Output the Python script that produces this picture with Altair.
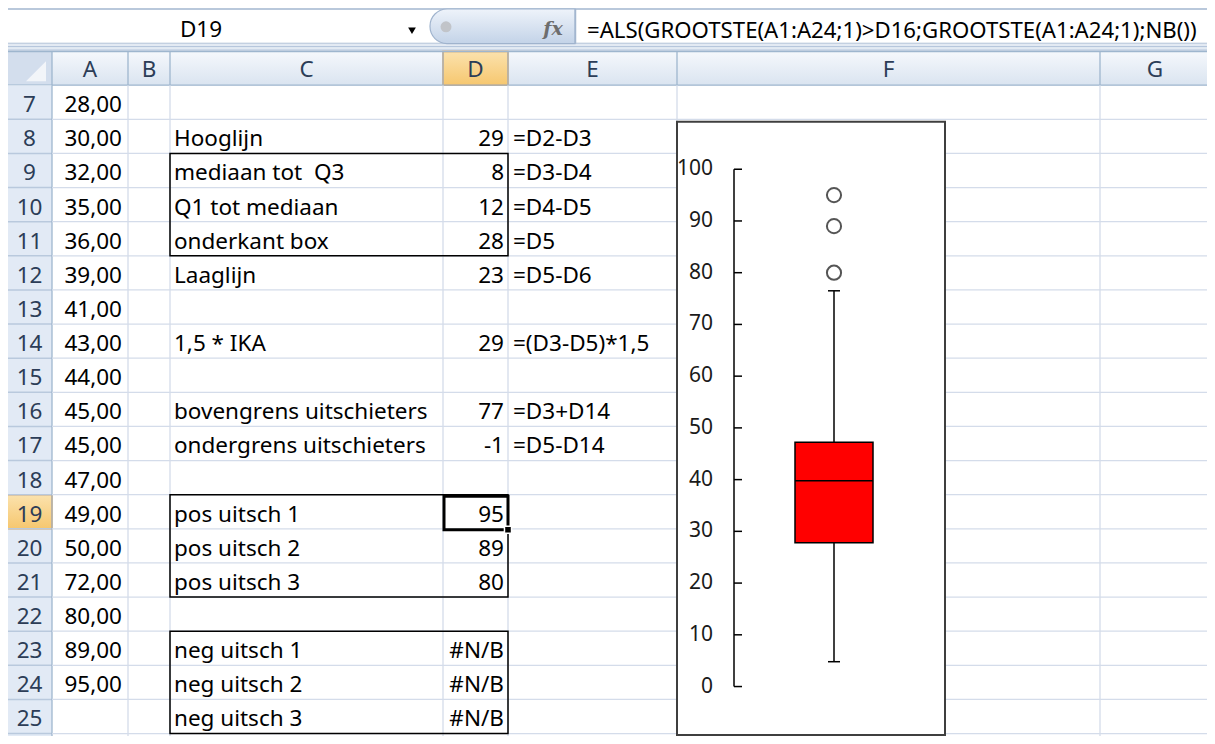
import altair as alt
import pandas as pd

# ---------------- values ----------------
row_numbers = list(range(7, 26))
col_letters = ["A", "B", "C", "D", "E", "F", "G"]
values_a = ["28,00", "30,00", "32,00", "35,00", "36,00", "39,00", "41,00", "43,00",
            "44,00", "45,00", "45,00", "47,00", "49,00", "50,00", "72,00", "80,00",
            "89,00", "95,00", ""]
labels_c = ["", "Hooglijn", "mediaan tot\u00a0 Q3", "Q1 tot mediaan", "onderkant box",
            "Laaglijn", "", "1,5 * IKA", "", "bovengrens uitschieters",
            "ondergrens uitschieters", "", "pos uitsch 1", "pos uitsch 2",
            "pos uitsch 3", "", "neg uitsch 1", "neg uitsch 2", "neg uitsch 3"]
values_d = ["", "29", "8", "12", "28", "23", "", "29", "", "77", "-1", "",
            "95", "89", "80", "", "#N/B", "#N/B", "#N/B"]
formulas_e = ["", "=D2-D3", "=D3-D4", "=D4-D5", "=D5", "=D5-D6", "", "=(D3-D5)*1,5",
              "", "=D3+D14", "=D5-D14", "", "", "", "", "", "", "", ""]
name_box = "D19"
formula_text = "=ALS(GROOTSTE(A1:A24;1)>D16;GROOTSTE(A1:A24;1);NB())"
active_col = "D"
active_row = 19

# box plot
whisker_low = 4.8
q1 = 27.8
median = 39.8
q3 = 47.2
whisker_high = 76.5
outliers = [95, 89, 80]
axis_ticks = [0, 10, 20, 30, 40, 50, 60, 70, 80, 90, 100]

# ---------------- layout (screen geometry of the sheet) ----------------
W, H = 1199, 728
OFF = 8
SRC_W, SRC_H = 1215, 744
KY = H / (SRC_H - OFF)          # slight vertical squeeze so the page does not overflow
col_edges = [7, 52, 128, 170, 443, 508, 677, 1100, 1210]
HEAD_TOP, HEAD_BOT = 52, 86
ROW_H = 34.5
BAR_TOP, BAR_BOT = 9, 44
RIGHT = 1216
BOTTOM = 745
CHART_BOTTOM = 743
FONT = "Noto Sans"
FS = 22.5
HEAD_BORDER = "#9eb6ce"
GRID = "#d4dcea"
HEAD_TXT = "#2c3d57"


def row_top(r):
    return HEAD_BOT + (r - 7) * ROW_H


def row_mid(r):
    return row_top(r) + ROW_H / 2 + 3


def cy(p):
    return (p - OFF) * KY


px_x = alt.Scale(domain=[OFF, OFF + W], range=[0, W], zero=False, nice=False)
px_y = alt.Scale(domain=[OFF, SRC_H], range=[0, H], zero=False, nice=False)


def rect_layer(df, fill_field=True, **mark):
    enc = dict(
        x=alt.X("x1:Q", scale=px_x, axis=None),
        x2="x2:Q",
        y=alt.Y("y1:Q", scale=px_y, axis=None),
        y2="y2:Q",
    )
    if fill_field:
        enc["fill"] = alt.Fill("fill:N", scale=None)
    return alt.Chart(df).mark_rect(**mark).encode(**enc)


def rule_layer(df, color, width=1):
    return alt.Chart(df).mark_rule(color=color, strokeWidth=width).encode(
        x=alt.X("x1:Q", scale=px_x, axis=None),
        x2="x2:Q",
        y=alt.Y("y1:Q", scale=px_y, axis=None),
        y2="y2:Q",
    )


def text_layer(df, align, **mark):
    props = dict(font=FONT, fontSize=FS, color="black", baseline="middle")
    props.update(mark)
    return alt.Chart(df).mark_text(align=align, **props).encode(
        x=alt.X("x:Q", scale=px_x, axis=None),
        y=alt.Y("y:Q", scale=px_y, axis=None),
        text="t:N",
    )


def grad(c1, c2):
    return alt.Gradient(gradient="linear",
                        stops=[alt.GradientStop(color=c1, offset=0),
                               alt.GradientStop(color=c2, offset=1)],
                        x1=0, x2=0, y1=0, y2=1)


def point_layer(x, y, **mark):
    return alt.Chart(pd.DataFrame([dict(x=x, y=y)])).mark_point(opacity=1, **mark).encode(
        x=alt.X("x:Q", scale=px_x, axis=None), y=alt.Y("y:Q", scale=px_y, axis=None))


layers = []

# ---- formula bar ----
layers.append(rect_layer(pd.DataFrame([dict(x1=7, x2=RIGHT + 2, y1=BAR_TOP, y2=BAR_BOT, fill="white")]),
                         stroke="#a3b6cf", strokeWidth=1.5))
layers.append(rect_layer(pd.DataFrame([dict(x1=7, x2=RIGHT + 2, y1=BAR_BOT, y2=HEAD_TOP, fill="#e3eaf3")])))
layers.append(rule_layer(pd.DataFrame([dict(x1=7, x2=RIGHT, y1=47, y2=47),
                                       dict(x1=7, x2=RIGHT, y1=50.5, y2=50.5)]), "#b3c4da", 1))
layers.append(rect_layer(pd.DataFrame([dict(x1=430, x2=575, y1=BAR_TOP, y2=BAR_BOT)]), fill_field=False,
                         fill=grad("#eef3fa", "#c3d3e8"), stroke="#9fb3cd", strokeWidth=1.2,
                         cornerRadiusTopLeft=17, cornerRadiusBottomLeft=17))
layers.append(rule_layer(pd.DataFrame([dict(x1=575.5, x2=575.5, y1=BAR_TOP, y2=BAR_BOT)]), "#a3b6cf", 1.5))
layers.append(point_layer(446, 27, filled=True, shape="circle", size=120, color="#c1c4c9"))
layers.append(point_layer(412, 31, filled=True, shape="triangle-down", size=60, color="black"))
layers.append(text_layer(pd.DataFrame([dict(x=201, y=30, t=name_box)]), "center"))
layers.append(text_layer(pd.DataFrame([dict(x=553, y=29, t="fx")]), "center",
                         font="DejaVu Serif", fontStyle="italic", fontWeight="bold",
                         fontSize=19, color="#6d6d6d"))
layers.append(text_layer(pd.DataFrame([dict(x=587, y=31, t=formula_text)]), "left", fontSize=22.2))

# ---- column header row ----
layers.append(rect_layer(pd.DataFrame([dict(x1=7, x2=RIGHT + 2, y1=HEAD_TOP, y2=HEAD_BOT)]), fill_field=False,
                         fill=grad("#f5f8fc", "#dae4f0")))
ai = col_letters.index(active_col)
layers.append(rect_layer(pd.DataFrame([dict(x1=col_edges[ai + 1], x2=col_edges[ai + 2],
                                            y1=HEAD_TOP, y2=HEAD_BOT)]), fill_field=False,
                         fill=grad("#fbe2ad", "#f6c76f"), stroke="#f2a03c", strokeWidth=1.5))
# corner cell
layers.append(rect_layer(pd.DataFrame([dict(x1=7, x2=col_edges[1], y1=HEAD_TOP, y2=HEAD_BOT, fill="#d3deed")])))
layers.append(point_layer(36, 72, filled=True, shape="M -1 1 L 1 1 L 1 -1 Z", size=400, color="#f2f5f9"))
head_v = pd.DataFrame([dict(x1=e, x2=e, y1=HEAD_TOP, y2=HEAD_BOT) for e in col_edges[1:]])
layers.append(rule_layer(head_v, HEAD_BORDER, 1.3))
layers.append(rule_layer(pd.DataFrame([dict(x1=7, x2=RIGHT, y1=HEAD_BOT, y2=HEAD_BOT),
                                       dict(x1=7, x2=RIGHT, y1=HEAD_TOP, y2=HEAD_TOP)]), HEAD_BORDER, 1.3))
col_lbl = pd.DataFrame([dict(x=(col_edges[i + 1] + col_edges[i + 2]) / 2, y=71, t=c)
                        for i, c in enumerate(col_letters)])
layers.append(text_layer(col_lbl, "center", color=HEAD_TXT))

# ---- row header column ----
layers.append(rect_layer(pd.DataFrame([dict(x1=7, x2=col_edges[1], y1=HEAD_BOT, y2=BOTTOM,
                                            fill="#e2eaf5")])))
layers.append(rect_layer(pd.DataFrame([dict(x1=7, x2=col_edges[1], y1=row_top(active_row),
                                            y2=row_top(active_row + 1))]), fill_field=False,
                         fill=grad("#fbe2ad", "#f6c76f"), stroke="#f2a03c", strokeWidth=1.5))
row_h = pd.DataFrame([dict(x1=7, x2=col_edges[1], y1=row_top(r + 1), y2=row_top(r + 1)) for r in row_numbers])
layers.append(rule_layer(row_h, "#b9c9dd", 1.5))
layers.append(rule_layer(pd.DataFrame([dict(x1=col_edges[1], x2=col_edges[1], y1=HEAD_BOT, y2=BOTTOM),
                                       dict(x1=7, x2=7, y1=HEAD_TOP, y2=BOTTOM)]), HEAD_BORDER, 1.3))
row_lbl = pd.DataFrame([dict(x=29.5, y=row_mid(r), t=str(r)) for r in row_numbers])
layers.append(text_layer(row_lbl, "center", color=HEAD_TXT))

# ---- cell grid ----
grid_h = pd.DataFrame([dict(x1=col_edges[1], x2=RIGHT, y1=row_top(r + 1), y2=row_top(r + 1)) for r in row_numbers])
grid_v = pd.DataFrame([dict(x1=e, x2=e, y1=HEAD_BOT, y2=BOTTOM) for e in col_edges[2:]])
layers.append(rule_layer(grid_h, GRID, 1.3))
layers.append(rule_layer(grid_v, GRID, 1.3))

# ---- cell contents ----
a_df = pd.DataFrame([dict(x=col_edges[2] - 6, y=row_mid(r), t=v) for r, v in zip(row_numbers, values_a) if v])
c_df = pd.DataFrame([dict(x=col_edges[3] + 4, y=row_mid(r), t=v) for r, v in zip(row_numbers, labels_c) if v])
d_df = pd.DataFrame([dict(x=col_edges[5] - 4, y=row_mid(r), t=v) for r, v in zip(row_numbers, values_d) if v])
e_df = pd.DataFrame([dict(x=col_edges[5] + 5, y=row_mid(r), t=v) for r, v in zip(row_numbers, formulas_e) if v])
layers.append(text_layer(a_df, "right"))
layers.append(text_layer(c_df, "left"))
layers.append(text_layer(d_df, "right"))
layers.append(text_layer(e_df, "left"))

# cell borders (outlined ranges)
ranges = pd.DataFrame([
    dict(x1=col_edges[3], x2=col_edges[5], y1=row_top(9), y2=row_top(12)),
    dict(x1=col_edges[3], x2=col_edges[5], y1=row_top(19), y2=row_top(22)),
    dict(x1=col_edges[3], x2=col_edges[5], y1=row_top(23), y2=row_top(26)),
])
layers.append(rect_layer(ranges, fill_field=False, fill=None, stroke="black", strokeWidth=1.5))

# active cell selection + fill handle
layers.append(rect_layer(pd.DataFrame([dict(x1=col_edges[4] + 1, x2=col_edges[5],
                                            y1=row_top(active_row) + 1.5, y2=row_top(active_row + 1) + 1)]),
                         fill_field=False, fill=None, stroke="black", strokeWidth=3))
layers.append(point_layer(col_edges[5], row_top(active_row + 1) + 1, filled=True, shape="square",
                          size=50, color="black", stroke="white", strokeWidth=1.5))

# ---- chart object in column F ----
layers.append(rect_layer(pd.DataFrame([dict(x1=677, x2=945, y1=123, y2=CHART_BOTTOM, fill="white")]),
                         stroke="#3f3f3f", strokeWidth=2))

# box plot, drawn through its own value scale
val_y = alt.Scale(domain=[0, 100], range=[cy(694), cy(171)], zero=False, nice=False)
AX_X = 734 - OFF
CX = 834 - OFF
BOX_L, BOX_R = 795 - OFF, 873 - OFF

tick_df = pd.DataFrame({"v": axis_ticks})
axis_line = alt.Chart(pd.DataFrame({"lo": [axis_ticks[0]], "hi": [axis_ticks[-1]]})).mark_rule(
    color="black", strokeWidth=1.5).encode(
    x=alt.value(AX_X), y=alt.Y("lo:Q", scale=val_y, axis=None), y2="hi:Q")
axis_tk = alt.Chart(tick_df).mark_rule(color="black", strokeWidth=1.5).encode(
    x=alt.value(AX_X), x2=alt.value(AX_X + 8), y=alt.Y("v:Q", scale=val_y, axis=None))
axis_lbl = alt.Chart(tick_df).mark_text(align="right", baseline="middle", font=FONT, fontSize=21,
                                        color="#1a1a1a").encode(
    x=alt.value(713 - OFF), y=alt.Y("v:Q", scale=val_y, axis=None), text=alt.Text("v:Q"))

stats = pd.DataFrame({"low": [whisker_low], "q1": [q1], "med": [median], "q3": [q3], "high": [whisker_high]})
whisker = alt.Chart(stats).mark_rule(color="black", strokeWidth=1.5).encode(
    x=alt.value(CX), y=alt.Y("low:Q", scale=val_y, axis=None), y2="high:Q")
caps = alt.Chart(pd.DataFrame({"v": [whisker_low, whisker_high]})).mark_rule(color="black", strokeWidth=1.5).encode(
    x=alt.value(CX - 6), x2=alt.value(CX + 6), y=alt.Y("v:Q", scale=val_y, axis=None))
box = alt.Chart(stats).mark_rect(fill="#ff0000", stroke="black", strokeWidth=1.5).encode(
    x=alt.value(BOX_L), x2=alt.value(BOX_R), y=alt.Y("q1:Q", scale=val_y, axis=None), y2="q3:Q")
med = alt.Chart(stats).mark_rule(color="black", strokeWidth=1.5).encode(
    x=alt.value(BOX_L), x2=alt.value(BOX_R), y=alt.Y("med:Q", scale=val_y, axis=None))
outl = alt.Chart(pd.DataFrame({"v": outliers})).mark_point(
    shape="circle", size=200, filled=False, color="#555555", strokeWidth=2, opacity=1).encode(
    x=alt.value(CX), y=alt.Y("v:Q", scale=val_y, axis=None))

layers += [axis_line, axis_tk, axis_lbl, whisker, caps, box, med, outl]

chart = alt.layer(*layers).resolve_scale(x="independent", y="independent").properties(
    width=W, height=H, padding=0, autosize=alt.AutoSizeParams(type="none"),
    background="white",
).configure_view(stroke=None)

chart.save("out.html", embed_options={"renderer": "svg", "actions": False})
